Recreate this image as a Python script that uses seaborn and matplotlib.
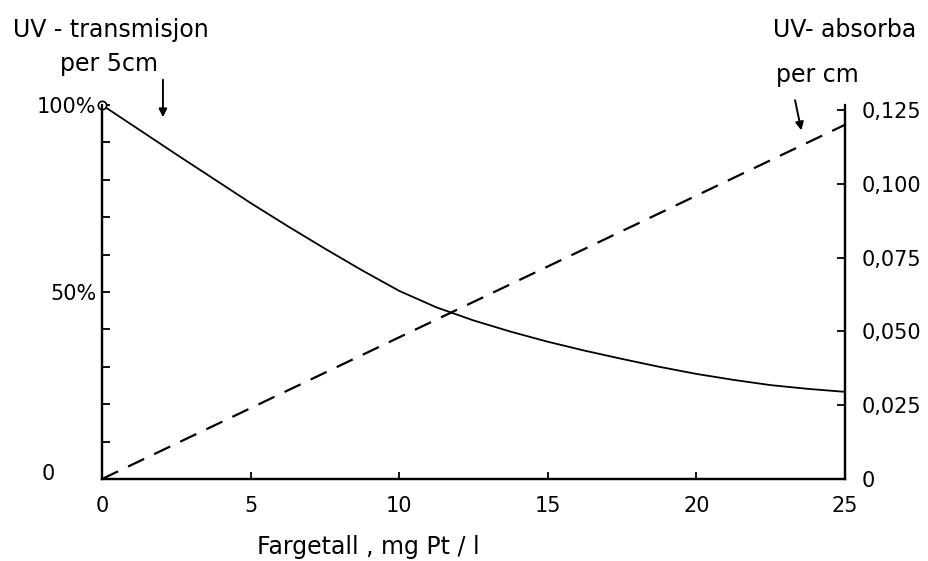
import numpy as np
import pandas as pd
import matplotlib
matplotlib.use('Agg')
import matplotlib.pyplot as plt
import seaborn as sns

# Data
fargetall = [0, 1.25, 2.5, 3.75, 5, 6.25, 7.5, 8.75, 10, 11.25, 12.5,
             13.75, 15, 16.25, 17.5, 18.75, 20, 21.25, 22.5, 23.75, 25]
transmisjon = [100, 93.4, 86.8, 80.3, 73.8, 67.6, 61.6, 55.8, 50.3, 45.9, 42.4,
               39.4, 36.7, 34.3, 32.1, 30.0, 28.1, 26.5, 25.1, 24.1, 23.3]
abs_x = [0, 25]
absorbans = [0, 0.12]

x_ticks = [0, 5, 10, 15, 20, 25]
left_ticks = [0, 50, 100]
left_labels = ['', '50%', '100%']
right_ticks = [0, 0.025, 0.05, 0.075, 0.1, 0.125]
right_labels = ['0', '0,025', '0,050', '0,075', '0,100', '0,125']

sns.set_theme(style="white")
plt.rcParams['font.family'] = ['DejaVu Sans']
plt.rcParams['text.color'] = 'black'

W, H = 929, 561
fig = plt.figure(figsize=(W / 100, H / 100), dpi=100)
x0, x1, ytop, ybot = 102, 845, 105, 479
ax = fig.add_axes([x0 / W, 1 - ybot / H, (x1 - x0) / W, (ybot - ytop) / H])
ax2 = ax.twinx()

df_t = pd.DataFrame({'x': fargetall, 'T': transmisjon})
df_a = pd.DataFrame({'x': abs_x, 'A': absorbans})

sns.lineplot(data=df_t, x='x', y='T', ax=ax, color='black', linewidth=1.3)
ax.plot([fargetall[0]], [transmisjon[0]], 'o', mfc='white', mec='black',
        ms=6, mew=1.2, clip_on=False, zorder=5)
sns.lineplot(data=df_a, x='x', y='A', ax=ax2, color='black', linewidth=1.6,
             linestyle=(0, (8, 5)))

ax.set_xlim(0, 25)
ax.set_ylim(0, 100)
ax2.set_ylim(0, 0.125 * 374 / 369)

ax.set_xticks(x_ticks)
ax.set_xticklabels([str(t) for t in x_ticks])
ax.set_yticks(left_ticks)
ax.set_yticklabels(left_labels)
ax.set_yticks(np.arange(10, 100, 10), minor=True)
ax2.set_yticks(right_ticks)
ax2.set_yticklabels(right_labels)

fs = 15
ax.tick_params(axis='x', direction='in', length=5, width=1.3, pad=12,
               labelsize=fs, colors='black', bottom=True)
ax.tick_params(axis='y', which='both', direction='in', length=6, width=1.3,
               pad=4, labelsize=fs, left=True, colors='black')
ax2.tick_params(axis='y', direction='in', length=6, width=1.3, pad=12,
                labelsize=fs, right=True, colors='black')

for a in (ax, ax2):
    a.set_xlabel('')
    a.set_ylabel('')
    a.spines['top'].set_visible(False)
    for s in ('left', 'right', 'bottom'):
        a.spines[s].set_color('black')
        a.spines[s].set_linewidth(1.6)
ax.spines['left'].set_bounds(0, 100)
ax2.spines['right'].set_bounds(0, 0.125)

# left "0" sits well away from the axis in the original
ax.text(-0.073, 0.013, '0', transform=ax.transAxes, fontsize=fs,
        ha='center', va='center')

ax.set_xlabel('Fargetall , mg Pt / l', fontsize=17, color='black')
ax.xaxis.set_label_coords(0.358, -0.15)

# header texts (the right one is cut short in the original scan)
fig.text(13 / W, 1 - 30 / H, 'UV - transmisjon', fontsize=17, va='center')
fig.text(60 / W, 1 - 64 / H, 'per 5cm', fontsize=17, va='center')
fig.text(773 / W, 1 - 30 / H, 'UV- absorba', fontsize=17, va='center')
fig.text(776 / W, 1 - 75 / H, 'per cm', fontsize=17, va='center')

arrow = dict(arrowstyle='-|>', color='black', lw=1.4, mutation_scale=12)
ax.annotate('', xy=(2.05, 96), xytext=(2.05, 107.5), arrowprops=arrow,
            annotation_clip=False)
ax.annotate('', xy=(23.55, 92.5), xytext=(23.3, 102), arrowprops=arrow,
            annotation_clip=False)

fig.savefig('out.png', dpi=100)
